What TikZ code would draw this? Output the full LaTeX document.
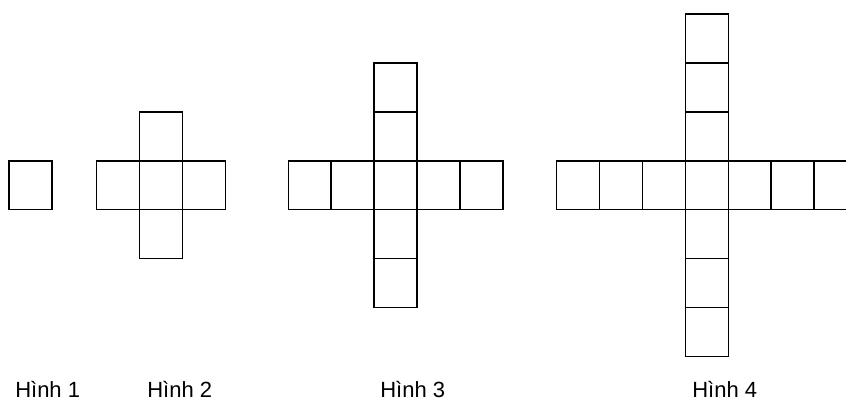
\documentclass[tikz,border=0pt]{standalone}
\usepackage{fontspec}
\setmainfont{Liberation Sans}
\usepackage{tikz}
\newcommand*{\cw}{42.9}
\newcommand*{\ch}{48.9}
\newcommand*{\rowtop}{160.8}

\begin{document}
\begin{tikzpicture}[x=0.75pt,y=-0.75pt]
\tikzset{cell/.style={draw,line width=1.1pt},
    figlabel/.style={font=\fontsize{16.5}{20}\selectfont,anchor=base west,inner sep=0pt}};

    \useasboundingbox (0,0) rectangle (846,400);
    \clip (0,0) rectangle (846,400);

    % Hinh 1
    \draw[cell] (9,\rowtop) rectangle +(\cw,\ch);

    % Hinh 2
    \foreach \i in {-1,0,1} {\draw[cell] (139.6+\i*\cw,\rowtop) rectangle +(\cw,\ch);}
    \foreach \j in {-1,1} {\draw[cell] (139.6,\rowtop+\j*\ch) rectangle +(\cw,\ch);}

    % Hinh 3
    \foreach \i in {-2,...,2} {\draw[cell] (374.1+\i*\cw,\rowtop) rectangle +(\cw,\ch);}
    \foreach \j in {-2,-1,1,2} {\draw[cell] (374.1,\rowtop+\j*\ch) rectangle +(\cw,\ch);}

    % Hinh 4
    \foreach \i in {-3,...,3} {\draw[cell] (685.4+\i*\cw,\rowtop) rectangle +(\cw,\ch);}
    \foreach \j in {-3,-2,-1,1,2,3} {\draw[cell] (685.4,\rowtop+\j*\ch) rectangle +(\cw,\ch);}

    \node[figlabel] (h1) at (15,397) {Hình 1};
    \node[figlabel] (h2) at (147,397) {Hình 2};
    \node[figlabel] (h3) at (380,397) {Hình 3};
    \node[figlabel] (h4) at (692,397) {Hình 4};
\end{tikzpicture}
\end{document}
